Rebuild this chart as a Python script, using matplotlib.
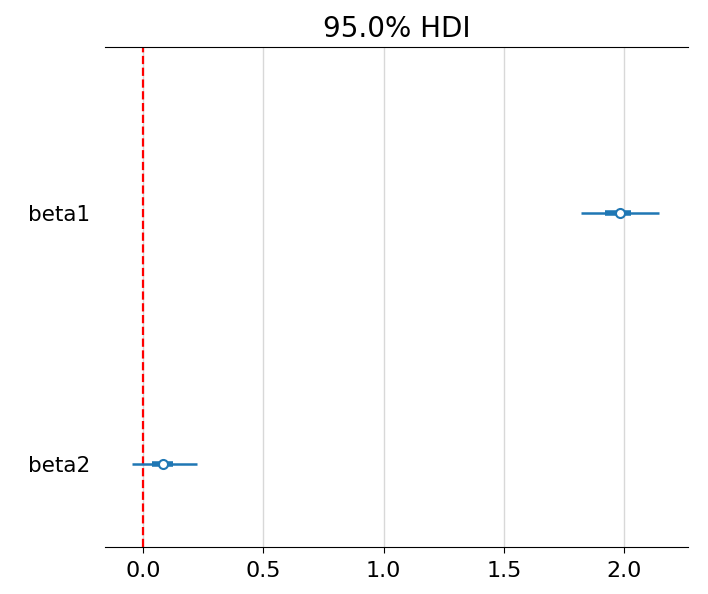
import matplotlib.pyplot as plt

# forest plot values
labels = ['beta1', 'beta2']
medians = [1.983, 0.083]
hdi_low = [1.821, -0.046]
hdi_high = [2.146, 0.225]
iqr_low = [1.921, 0.037]
iqr_high = [2.029, 0.124]
ref_val = 0.0
xticks = [0.0, 0.5, 1.0, 1.5, 2.0]

ypos = [1, 0]
color = '#1f77b4'

fig = plt.figure(figsize=(7.08, 5.94), dpi=100)
ax = fig.add_axes([105/708, 1 - 547/594, (688-105)/708, (547-47)/594])

for y, lo, hi, qlo, qhi, m in zip(ypos, hdi_low, hdi_high, iqr_low, iqr_high, medians):
    ax.plot([lo, hi], [y, y], color=color, lw=1.8, solid_capstyle='butt', zorder=3)
    ax.plot([qlo, qhi], [y, y], color=color, lw=4.0, solid_capstyle='butt', zorder=3)
    ax.plot([m], [y], 'o', color=color, mfc='white', mec=color, ms=6.5, mew=1.5, zorder=4)

ax.axvline(ref_val, color='red', ls='--', lw=1.6, zorder=2)

ax.set_xlim(-0.158, 2.266)
ax.set_ylim(-0.331, 1.661)
ax.set_xticks(xticks)
ax.set_xticklabels([f'{v:.1f}' for v in xticks])
ax.set_yticks(ypos)
ax.set_yticklabels(labels)
ax.grid(axis='x', color='#d8d8d8', lw=1)
ax.set_axisbelow(True)
ax.tick_params(axis='y', length=0, labelsize=15.5, pad=10.5)
ax.tick_params(axis='x', labelsize=16, length=4, pad=6)
for s in ['left', 'right']:
    ax.spines[s].set_visible(False)
ax.set_title('95.0% HDI', fontsize=20, pad=7)

fig.savefig('out.png', dpi=100)
